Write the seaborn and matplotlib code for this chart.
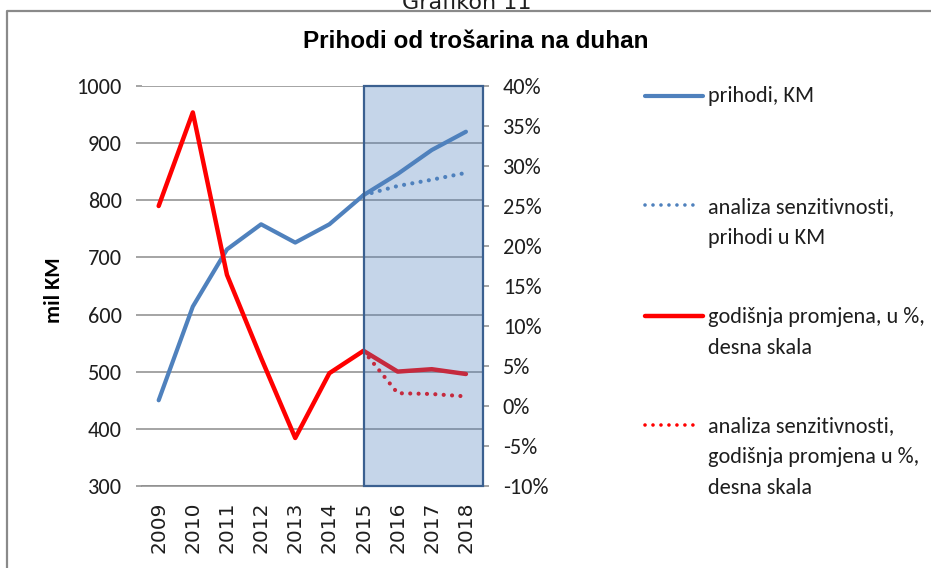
import numpy as np
import pandas as pd
import matplotlib
matplotlib.use("Agg")
import matplotlib.pyplot as plt
import seaborn as sns
from matplotlib.lines import Line2D

# ---- data ----
years = [2009, 2010, 2011, 2012, 2013, 2014, 2015, 2016, 2017, 2018]
prihodi = [450, 614, 714, 758, 726, 758, 809, 846, 888, 920]
sens_years = [2015, 2016, 2017, 2018]
prihodi_sens = [809, 825, 836, 848]
promjena = [25.0, 36.7, 16.4, 6.0, -4.0, 4.1, 6.9, 4.3, 4.6, 4.0]
promjena_sens = [6.9, 1.6, 1.5, 1.2]
left_ticks = [300, 400, 500, 600, 700, 800, 900, 1000]
right_ticks = [-10, -5, 0, 5, 10, 15, 20, 25, 30, 35, 40]
title = "Prihodi od trošarina na duhan"
top_caption = "Grafikon 11"
y_label = "mil KM"
legend_labels = [
    ["prihodi, KM"],
    ["analiza senzitivnosti,", "prihodi u KM"],
    ["godišnja promjena, u %,", "desna skala"],
    ["analiza senzitivnosti,", "godišnja promjena u %,", "desna skala"],
]

df = pd.DataFrame({"year": years, "prihodi": prihodi, "promjena": promjena})
df_s = pd.DataFrame({"year": sens_years, "prihodi": prihodi_sens, "promjena": promjena_sens})

sns.set_style("white")
plt.rcParams["font.family"] = ["Carlito", "DejaVu Sans"]

BLUE = "#4f81bd"
RED = "#ff0000"
GRID = "#8c8c8c"
TXT = "#1e1e1e"

W, H = 931, 568
fig = plt.figure(figsize=(W / 100, H / 100), dpi=100)
fig.patch.set_facecolor("white")

def fx(px):
    return px / W

def fy(py):
    return 1 - py / H

ax = fig.add_axes([fx(141.6), fy(486), (483 - 141.6) / W, 400 / H])
ax2 = ax.twinx()

DOT = (0, (0.01, 2.0))

# left axis series
sns.lineplot(data=df, x="year", y="prihodi", ax=ax, color=BLUE, lw=3.0,
             solid_joinstyle="round", solid_capstyle="round", zorder=3)
sns.lineplot(data=df_s, x="year", y="prihodi", ax=ax, color=BLUE, lw=3.0,
             linestyle=DOT, dash_capstyle="round", zorder=3)

# right axis series
sns.lineplot(data=df, x="year", y="promjena", ax=ax2, color=RED, lw=3.2,
             solid_joinstyle="round", solid_capstyle="round", zorder=3)
sns.lineplot(data=df_s, x="year", y="promjena", ax=ax2, color=RED, lw=3.0,
             linestyle=DOT, dash_capstyle="round", zorder=3)

# scenario shading box (from 2015 to right edge)
ax2.axvspan(2015, 2018.5, facecolor=(79 / 255, 129 / 255, 189 / 255, 0.33),
            edgecolor="#3b6090", lw=1.6, zorder=10, clip_on=False)

ax.set_xlim(2008.5, 2018.5)
ax.set_ylim(300, 1000)
ax2.set_ylim(-10, 40)

ax.set_yticks(left_ticks)
ax.set_yticklabels([str(v) for v in left_ticks])
ax2.set_yticks(right_ticks)
ax2.set_yticklabels([f"{v}%" for v in right_ticks])

ax.set_xticks(years)
ax.set_xticklabels([str(y) for y in years], rotation=90, fontfamily="DejaVu Sans",
                   fontsize=14.5, color=TXT)
ax.set_xticks([y + 0.5 for y in years], minor=True)
ax.tick_params(axis="x", which="major", length=0, pad=11)
ax.tick_params(axis="x", which="minor", length=4.5, width=1, color=GRID, direction="out")

ax.grid(axis="y", color=GRID, lw=1.1)
ax.grid(axis="x", visible=False)
ax2.grid(False)
ax.set_axisbelow(True)

ax.tick_params(axis="y", which="major", length=4.3, width=1.1, color=GRID, pad=10,
               labelsize=16, labelcolor=TXT, direction="out", left=True)
ax2.tick_params(axis="y", which="major", length=4.3, width=1.1, color=GRID, pad=10,
                labelsize=16, labelcolor=TXT, direction="out", right=True)

for a in (ax, ax2):
    for s in ("top", "left", "right"):
        a.spines[s].set_visible(False)
    a.set_xlabel("")
    a.set_ylabel("")
ax.spines["bottom"].set_visible(True)
ax.spines["bottom"].set_color(GRID)
ax.spines["bottom"].set_linewidth(1.1)
ax2.spines["bottom"].set_visible(False)

# titles / labels
fig.text(fx(467), fy(9), top_caption, ha="center", va="baseline",
         fontsize=16, fontfamily="DejaVu Sans", color=TXT)
fig.text(fx(476), fy(48), title, ha="center", va="baseline", fontsize=17.5,
         fontweight="bold", fontfamily="Liberation Sans", color="#000000")
fig.text(fx(54), fy(290), y_label, ha="center", va="center", rotation=90,
         fontsize=16, fontweight="bold", color="#000000")

# frame lines of the original figure box
fig.add_artist(Line2D([fx(7), fx(7), 1.0], [0.0, fy(11), fy(11)],
                      transform=fig.transFigure, color="#8a8a8a", lw=1.6))

# legend (manual, right side)
legend_styles = [
    dict(color=BLUE, lw=3.0, ls="-", y=95.7, x1=703),
    dict(color=BLUE, lw=2.6, ls=(0, (0.01, 2.2)), y=205, x1=699),
    dict(color=RED, lw=3.2, ls="-", y=315.7, x1=703),
    dict(color=RED, lw=2.6, ls=(0, (0.01, 2.2)), y=425, x1=699),
]
baselines = [[102], [213, 243.5], [323, 353.5], [432, 463, 494]]
for st, lines, bls in zip(legend_styles, legend_labels, baselines):
    fig.add_artist(Line2D([fx(645), fx(st["x1"])], [fy(st["y"]), fy(st["y"])],
                          transform=fig.transFigure, color=st["color"], lw=st["lw"],
                          linestyle=st["ls"], solid_capstyle="round",
                          dash_capstyle="round"))
    for txt, b in zip(lines, bls):
        fig.text(fx(708), fy(b), txt, ha="left", va="baseline", fontsize=16, color=TXT)

fig.savefig("out.png", dpi=100, facecolor="white")
